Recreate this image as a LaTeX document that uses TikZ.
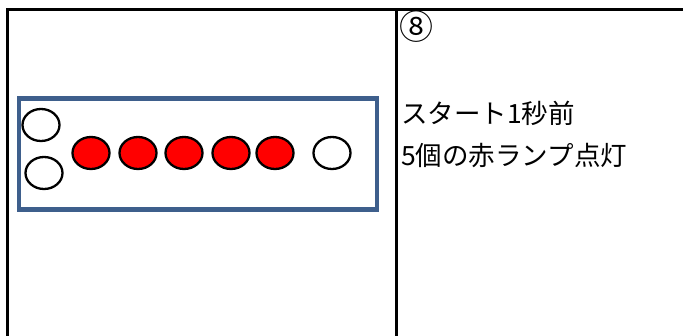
\documentclass[tikz,border=0pt]{standalone}
\usepackage{fontspec}
\newfontfamily\jpfont{Noto Sans CJK JP}
\usepackage{xcolor}
\usetikzlibrary{shapes.geometric}
\definecolor{framebl}{HTML}{3E5F8C}

\begin{document}
\begin{tikzpicture}[
    x=1pt, y=-1pt,
    grid/.style={line width=3pt},
    lamp/.style={ellipse, draw, line width=2.3pt, minimum width=37pt, minimum height=32pt, inner sep=0pt},
    redlamp/.style={lamp, fill=red},
    txt/.style={anchor=west, inner sep=0pt, font=\jpfont\fontsize{26.5}{30}\selectfont}
]
    \useasboundingbox (0,0) rectangle (683,336);

    % Table frame
    \coordinate (tl) at (7,10);
    \coordinate (tr) at (683,10);
    \coordinate (bl) at (7,336);
    \coordinate (tm) at (396,10);
    \coordinate (bm) at (396,336);
    \draw[grid] (tr) -- (tl) -- (bl);
    \draw[grid] (tm) -- (bm);

    % Start board
    \node[draw=framebl, line width=4.5pt, minimum width=358pt, minimum height=111pt, inner sep=0pt] (board) at (198,154) {};

    % Lamps
    \node[lamp] (w1) at (41,125) {};
    \node[lamp] (w2) at (44,173) {};
    \foreach \i/\x in {1/91, 2/138, 3/184, 4/231, 5/275}
        \node[redlamp] (r\i) at (\x,153) {};
    \node[lamp] (w3) at (332,153) {};

    % Caption
    \node[txt, font=\jpfont\fontsize{34}{36}\selectfont] (num) at (399,27) {⑧};
    \node[txt] (l1) at (401,113) {スタート1秒前};
    \node[txt] (l2) at (401,156) {5個の赤ランプ点灯};
\end{tikzpicture}
\end{document}
